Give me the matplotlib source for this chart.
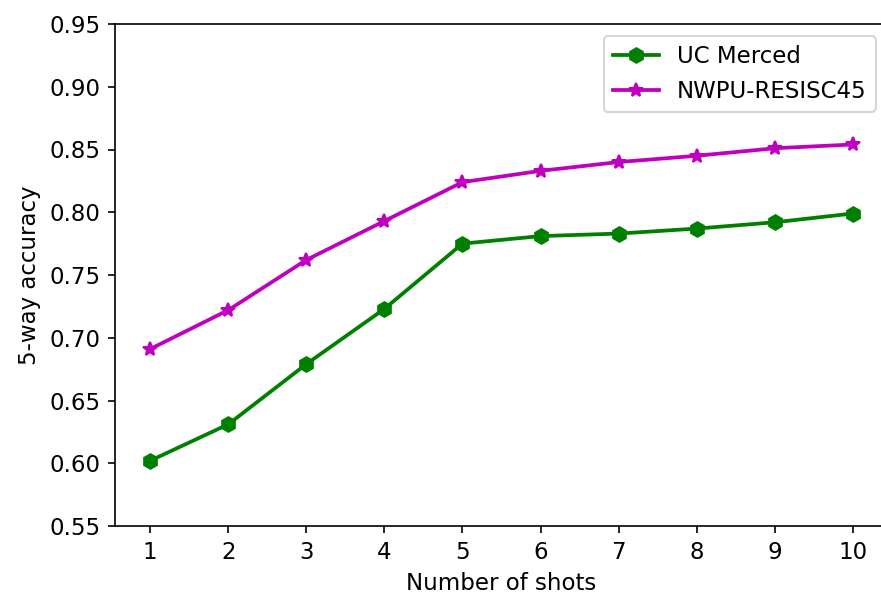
import matplotlib
matplotlib.use("Agg")
import matplotlib.pyplot as plt

shots = [1, 2, 3, 4, 5, 6, 7, 8, 9, 10]
uc_merced = [0.602, 0.631, 0.679, 0.723, 0.775, 0.781, 0.783, 0.787, 0.792, 0.799]
nwpu = [0.691, 0.722, 0.762, 0.793, 0.824, 0.833, 0.840, 0.845, 0.851, 0.854]
yticks = [0.55, 0.60, 0.65, 0.70, 0.75, 0.80, 0.85, 0.90, 0.95]

plt.rcParams["font.size"] = 11

W, H = 881, 594
fig = plt.figure(figsize=(W / 150, H / 150), dpi=150)
ax = fig.add_axes([115 / W, (H - 526) / H, 773 / W, 502 / H])
ax.plot(shots, uc_merced, color="green", marker="h", lw=1.8, markersize=7, label="UC Merced")
ax.plot(shots, nwpu, color="m", marker="*", lw=1.8, markersize=7, label="NWPU-RESISC45")
ax.set_xticks(shots)
ax.set_yticks(yticks)
ax.set_ylim(0.55, 0.95)
ax.set_xlabel("Number of shots")
ax.set_ylabel("5-way accuracy")
ax.legend(loc="upper right", bbox_to_anchor=(876 / W, 1 - 36 / H),
          bbox_transform=fig.transFigure, borderaxespad=0)
fig.savefig("out.png", dpi=150)
